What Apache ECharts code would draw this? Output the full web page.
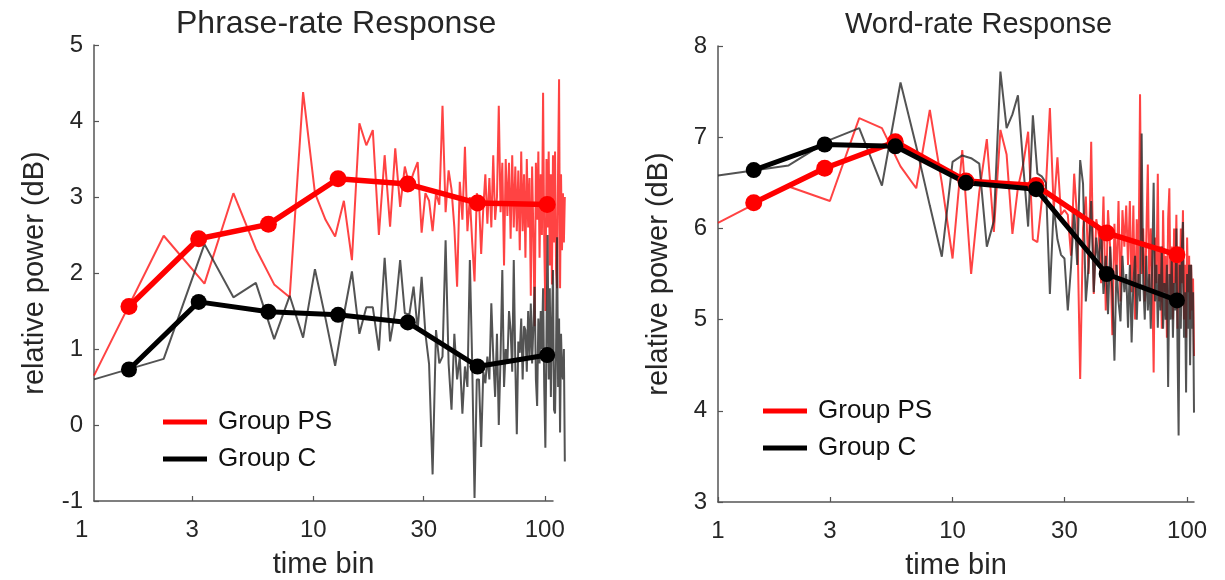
<!DOCTYPE html>
<html><head><meta charset="utf-8">
<script src="https://cdn.jsdelivr.net/npm/echarts@6/dist/echarts.min.js"></script>
<style>html,body{margin:0;padding:0;background:#fff}#c{width:1225px;height:580px}</style>
</head><body><div id="c"></div>
<script>
// ---------------- data ----------------
const titles = ['Phrase-rate Response', 'Word-rate Response'];
const legendNames = ['Group PS', 'Group C'];
const xTickValues = [1, 3, 10, 30, 100];

// Phrase-rate panel: single time bins (spacing phraseStep) and grouped bins
const phraseStep = 1.13;
const phraseRedThin = [
  0.65, 2.49, 1.86, 3.05, 2.32, 1.85, 1.68, 4.38, 3.05, 2.70,
  2.48, 2.95, 2.17, 3.97, 3.68, 3.88, 2.50, 3.55, 2.61, 3.64,
  2.87, 3.40, 3.15, 3.32, 3.46, 2.53, 3.05, 2.95, 2.55, 3.05,
  2.90, 4.20, 2.80, 3.35, 3.10, 2.60, 1.82, 3.20, 2.70, 3.66,
  2.55, 3.00, 2.40, 1.89, 3.05, 2.95, 2.25, 2.85, 3.30, 2.65,
  3.25, 2.60, 3.55, 2.70, 3.00, 4.20, 2.80, 3.45, 2.10, 3.50,
  2.75, 3.45, 2.45, 3.55, 2.60, 3.40, 2.55, 3.35, 2.30, 3.60,
  2.55, 3.30, 2.20, 3.50, 2.60, 3.25, 1.70, 3.40, 2.50, 1.30,
  3.45, 2.70, 3.60, 2.20, 3.30, 2.50, 4.37, 2.40, 1.50, 3.50,
  2.60, 3.60, 2.10, 3.30, 1.85, 3.55, 2.40, 3.60, 2.05, 1.80,
  3.40, 4.55, 1.80, 3.30, 2.30, 3.05, 2.40, 3.00
];
const phraseBlackThin = [
  0.60, 0.87, 2.38, 1.68, 1.87, 1.13, 1.70, 1.15, 2.05, 1.40,
  0.78, 1.45, 2.02, 1.20, 1.55, 1.55, 0.98, 2.20, 1.10, 1.50,
  2.17, 1.47, 1.45, 1.82, 1.25, 1.95, 1.20, 0.80, -0.65, 1.25,
  0.81, 0.90, 2.43, 0.81, 0.20, 1.20, 0.60, 0.90, 0.15, 0.77,
  0.50, 2.17, 0.80, -0.96, 0.60, 0.60, -0.29, 0.70, 0.55, 0.90,
  0.60, 1.60, 0.90, 0.37, 1.20, 0.00, 0.90, 2.04, 0.50, 1.00,
  0.81, 1.50, 1.25, 0.70, 2.17, 0.80, -0.12, 1.10, 0.95, 1.40,
  0.60, 1.30, 1.25, 0.70, 1.50, 0.90, 1.60, 0.81, 1.30, 1.82,
  0.60, 0.25, 1.40, 0.81, 1.50, 1.00, 1.80, 0.50, -0.30, 1.20,
  2.50, 0.60, 1.80, 0.37, 1.30, 2.04, 0.20, 0.15, 1.00, 2.47,
  0.50, 1.40, -0.10, 1.20, 0.70, 0.60, 1.00, -0.48
];
const phraseBinX = [1.6, 3.2, 6.4, 12.8, 25.6, 51.2, 102.4];
const phraseRedBin = [1.56, 2.45, 2.64, 3.24, 3.17, 2.92, 2.90];
const phraseBlackBin = [0.73, 1.62, 1.49, 1.45, 1.35, 0.77, 0.92];

// Word-rate panel
const wordStep = 1;
const wordRedThin = [
  6.06, 6.46, 6.30, 7.21, 7.10, 6.68, 6.44, 7.30, 6.50, 5.67,
  6.86, 5.50, 6.40, 6.98, 5.96, 7.08, 6.81, 5.94, 6.45, 6.70,
  7.06, 5.88, 5.85, 6.30, 6.45, 7.32, 6.20, 6.78, 6.15, 6.20,
  6.15, 5.70, 6.60, 6.10, 4.35, 6.00, 6.35, 5.50, 6.95, 5.28,
  6.10, 5.93, 5.40, 6.35, 5.10, 6.20, 5.78, 4.83, 6.05, 5.45,
  6.30, 5.20, 6.20, 5.80, 6.25, 5.60, 6.30, 5.30, 6.25, 5.00,
  6.10, 5.40, 7.47, 5.50, 6.00, 5.20, 5.90, 6.70, 5.30, 6.00,
  5.50, 4.42, 5.90, 5.40, 6.60, 5.20, 5.80, 4.90, 6.20, 5.30,
  5.70, 4.80, 6.10, 6.44, 5.20, 5.80, 5.00, 6.00, 5.40, 6.15,
  4.90, 5.70, 5.20, 6.00, 5.40, 6.20, 5.00, 5.60, 4.80, 5.90,
  5.30, 5.70, 5.00, 5.60, 5.10, 5.45, 4.60
];
const wordBlackThin = [
  6.58, 6.69, 6.97, 7.10, 6.47, 7.60, 6.90, 6.25, 5.69, 6.73,
  6.80, 6.77, 6.71, 5.80, 6.08, 7.72, 7.10, 7.25, 7.46, 6.70,
  6.02, 7.24, 6.60, 6.57, 6.50, 5.28, 6.24, 5.88, 5.71, 5.67,
  5.10, 5.58, 6.20, 5.60, 6.75, 6.49, 5.20, 5.58, 6.30, 5.30,
  5.90, 5.60, 6.00, 5.28, 5.70, 5.06, 5.80, 5.30, 4.55, 5.60,
  5.20, 4.98, 5.70, 5.30, 5.50, 4.91, 5.60, 4.75, 5.40, 5.70,
  5.00, 5.50, 5.20, 7.04, 5.40, 5.00, 5.70, 5.10, 5.50, 4.90,
  5.60, 6.50, 5.20, 5.60, 4.91, 5.50, 5.10, 5.80, 4.90, 5.40,
  5.00, 5.60, 4.26, 5.50, 5.00, 5.70, 4.80, 5.40, 5.10, 6.00,
  4.70, 3.73, 5.60, 4.90, 5.80, 6.07, 4.80, 5.30, 4.20, 5.50,
  4.90, 5.60, 4.50, 5.60, 4.90, 5.30, 3.98
];
const wordBinX = [1.42, 2.85, 5.7, 11.4, 22.7, 45.4, 90.5];
const wordRedBin = [6.28, 6.66, 6.95, 6.52, 6.47, 5.95, 5.71];
const wordBlackBin = [6.64, 6.92, 6.90, 6.50, 6.43, 5.50, 5.21];

// ---------------- chart ----------------
const FONT = '"Liberation Sans", Arial, Helvetica, sans-serif';
const TXT = '#262626';
const AX = '#555';
const thinPairs = (vals, step) => vals.map((v, i) => [(i + 1) * step, v]);
const binPairs = (xs, ys) => xs.map((x, i) => [x, ys[i]]);

// layout of the two panels
const P = {
  phrase: {left: 94, top: 45, width: 459, height: 456, xMin: 1.13, xMax: 108.5, yMin: -1, yMax: 5},
  word:   {left: 718, top: 46, width: 476, height: 456, xMin: 1, xMax: 107, yMin: 3, yMax: 8}
};
// In the phrase panel the single-bin traces run a little past the axis end:
// a hidden data grid with the same log scale but extended to the last bin.
const phraseDataMax = phraseRedThin.length * phraseStep;
const phraseDataWidth = P.phrase.width * Math.log(phraseDataMax / P.phrase.xMin) / Math.log(P.phrase.xMax / P.phrase.xMin);

function xAxis(idx, min, max) {
  return {
    gridIndex: idx, type: 'log', logBase: 10, min: min, max: max,
    name: 'time bin', nameLocation: 'middle', nameGap: 49,
    nameTextStyle: {fontSize: 29, color: TXT, fontFamily: FONT},
    axisLine: {show: true, onZero: false, lineStyle: {color: AX, width: 1.5}},
    axisTick: {show: true, inside: true, length: 5, customValues: xTickValues, lineStyle: {color: AX, width: 1.2}},
    minorTick: {show: false},
    axisLabel: {show: true, customValues: xTickValues, fontSize: 24, color: TXT, fontFamily: FONT, margin: 17,
      formatter: v => String(Math.round(v))},
    splitLine: {show: false}, minorSplitLine: {show: false}
  };
}
function yAxis(idx, min, max) {
  return {
    gridIndex: idx, type: 'value', min: min, max: max, interval: 1,
    name: 'relative power (dB)', nameLocation: 'middle', nameGap: 45,
    nameTextStyle: {fontSize: 29, color: TXT, fontFamily: FONT},
    axisLine: {show: true, onZero: false, lineStyle: {color: AX, width: 1.5}},
    axisTick: {show: true, inside: true, length: 5, lineStyle: {color: AX, width: 1.2}},
    axisLabel: {fontSize: 24, color: TXT, fontFamily: FONT, margin: 11},
    splitLine: {show: false}
  };
}
function thin(name, idx, data, color) {
  return {type: 'line', name: name, xAxisIndex: idx, yAxisIndex: idx, data: data,
    symbol: 'none', showSymbol: false, clip: false, silent: true, z: 2,
    lineStyle: {color: color, width: 2}, itemStyle: {color: color}};
}
function thick(name, idx, data, color, w, s) {
  return {type: 'line', name: name, xAxisIndex: idx, yAxisIndex: idx, data: data,
    symbol: 'circle', symbolSize: s, showSymbol: true, clip: false, silent: true, z: 3,
    lineStyle: {color: color, width: w}, itemStyle: {color: color}};
}
function legend(left, top) {
  return {
    data: legendNames.map(n => ({name: n, icon: 'rect'})),
    orient: 'vertical', left: left, top: top, itemWidth: 44, itemHeight: 5, itemGap: 11,
    padding: [24, 12, 8, 13], backgroundColor: '#fff', selectedMode: false,
    textStyle: {fontSize: 26, lineHeight: 26, color: '#111', fontFamily: FONT, padding: [0, 0, 0, 6]}
  };
}
function grid(g, width) {
  return {left: g.left, top: g.top, width: width, height: g.height, containLabel: false, outerBoundsMode: 'none'};
}

const chart = echarts.init(document.getElementById('c'), null, {renderer: 'canvas'});
chart.setOption({
  animation: false,
  backgroundColor: '#fff',
  textStyle: {fontFamily: FONT},
  title: [
    {text: titles[0], left: 176, top: 8, padding: 0, textStyle: {fontSize: 32, fontWeight: 'normal', color: TXT, fontFamily: FONT}},
    {text: titles[1], left: 845, top: 10, padding: 0, textStyle: {fontSize: 29, fontWeight: 'normal', color: TXT, fontFamily: FONT}}
  ],
  grid: [
    grid(P.phrase, P.phrase.width),
    grid(P.word, P.word.width),
    grid(P.phrase, phraseDataWidth)
  ],
  xAxis: [
    xAxis(0, P.phrase.xMin, P.phrase.xMax),
    xAxis(1, P.word.xMin, P.word.xMax),
    {gridIndex: 2, type: 'log', logBase: 10, min: P.phrase.xMin, max: phraseDataMax, show: false}
  ],
  yAxis: [
    yAxis(0, P.phrase.yMin, P.phrase.yMax),
    yAxis(1, P.word.yMin, P.word.yMax),
    {gridIndex: 2, type: 'value', min: P.phrase.yMin, max: P.phrase.yMax, show: false}
  ],
  legend: [legend(150, 385), legend(750, 374)],
  series: [
    thin('Group PS single bins', 2, thinPairs(phraseRedThin, phraseStep), 'rgba(255,20,20,0.8)'),
    thin('Group C single bins', 2, thinPairs(phraseBlackThin, phraseStep), 'rgba(40,40,40,0.8)'),
    thick('Group PS', 2, binPairs(phraseBinX, phraseRedBin), '#ff0000', 5.5, 17),
    thick('Group C', 2, binPairs(phraseBinX, phraseBlackBin), '#000000', 5, 16),
    thin('Group PS single bins ', 1, thinPairs(wordRedThin, wordStep), 'rgba(255,20,20,0.8)'),
    thin('Group C single bins ', 1, thinPairs(wordBlackThin, wordStep), 'rgba(40,40,40,0.8)'),
    thick('Group PS', 1, binPairs(wordBinX, wordRedBin), '#ff0000', 5.5, 17),
    thick('Group C', 1, binPairs(wordBinX, wordBlackBin), '#000000', 5, 16)
  ]
});

// The phrase-rate axis starts just right of 1, so its "1" label is placed by the axis scale itself
const px1 = chart.convertToPixel({xAxisIndex: 0}, xTickValues[0]);
const pyBottom = chart.convertToPixel({yAxisIndex: 0}, P.phrase.yMin);
chart.setOption({
  graphic: [{type: 'text', x: px1, y: pyBottom + 17, silent: true,
    style: {text: String(xTickValues[0]), fill: TXT, font: '24px ' + FONT, textAlign: 'center', textVerticalAlign: 'top'}}]
});
</script></body></html>
